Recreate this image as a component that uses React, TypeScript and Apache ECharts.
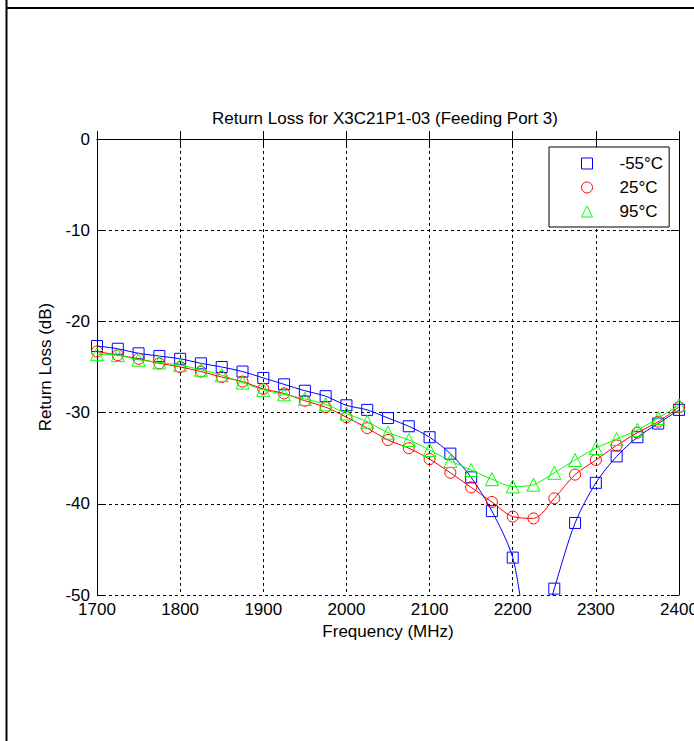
import React, { useEffect, useRef } from "react";
import * as echarts from "echarts";

const frequencies = [
  1700, 1725, 1750, 1775, 1800, 1825, 1850, 1875, 1900, 1925, 1950, 1975, 2000, 2025, 2050,
  2075, 2100, 2125, 2150, 2175, 2200, 2225, 2250, 2275, 2300, 2325, 2350, 2375, 2400,
];

const lossMinus55 = [
  -22.7, -23.0, -23.5, -23.8, -24.1, -24.6, -25.0, -25.5, -26.2, -26.9, -27.6, -28.2, -29.2, -29.7, -30.6,
  -31.5, -32.7, -34.5, -37.1, -40.8, -45.9, -57.0, -49.3, -42.1, -37.7, -34.8, -32.7, -31.2, -29.7,
];

const loss25 = [
  -23.3, -23.7, -24.1, -24.6, -25.0, -25.5, -26.1, -26.6, -27.4, -27.9, -28.7, -29.4, -30.5, -31.7, -33.0,
  -33.9, -35.1, -36.6, -38.2, -39.8, -41.4, -41.6, -39.4, -36.8, -35.2, -33.6, -32.2, -31.0, -29.4,
];

const loss95 = [
  -23.6, -23.7, -24.2, -24.5, -24.8, -25.3, -25.9, -26.7, -27.5, -28.0, -28.5, -29.1, -30.1, -31.0, -32.2,
  -33.0, -34.1, -35.3, -36.3, -37.3, -38.1, -37.9, -36.6, -35.2, -33.9, -32.9, -31.9, -30.6, -29.2,
];

const seriesNames = ["-55°C", "25°C", "95°C"];
const seriesColors = ["#0000ff", "#ff0000", "#00ff00"];
const seriesSymbols = ["rect", "circle", "triangle"];
const seriesSymbolSizes = [11, 11, 13];
const seriesValues = [lossMinus55, loss25, loss95];

const titleText = "Return Loss for X3C21P1-03 (Feeding Port 3)";
const xAxisName = "Frequency (MHz)";
const yAxisName = "Return Loss (dB)";

const FONT = "'Liberation Sans', Arial, sans-serif";

export default function App() {
  const ref = useRef<HTMLDivElement>(null);

  useEffect(() => {
    if (!ref.current) return;
    const chart = echarts.init(ref.current, undefined, { renderer: "svg" });

    const boxAxisCommon = {
      axisLine: { show: true, lineStyle: { color: "#000", width: 1 } },
      axisTick: { show: true, inside: true, length: 8, lineStyle: { color: "#000", width: 1 } },
    };

    const option: any = {
      animation: false,
      backgroundColor: "#fff",
      textStyle: { fontFamily: FONT },
      title: {
        text: titleText,
        left: 212,
        top: 110,
        padding: 0,
        textStyle: { fontFamily: FONT, fontSize: 17, fontWeight: "normal", color: "#000" },
      },
      grid: {
        left: 97,
        top: 139,
        right: 15,
        bottom: 146,
        containLabel: false,
        outerBoundsMode: "none",
      },
      legend: {
        orient: "vertical",
        left: 549,
        top: 147,
        padding: [8, 6, 7, 32],
        itemWidth: 11,
        itemHeight: 11,
        itemGap: 7,
        selectedMode: false,
        backgroundColor: "#fff",
        borderColor: "#000",
        borderWidth: 1,
        borderRadius: 0,
        textStyle: {
          fontFamily: FONT,
          fontSize: 17,
          lineHeight: 17,
          color: "#000",
          padding: [0, 0, 0, 22],
        },
        data: seriesNames.map((name, i) => ({
          name,
          icon: seriesSymbols[i],
          itemStyle: { color: "rgba(0,0,0,0)", borderColor: seriesColors[i], borderWidth: 1 },
        })),
      },
      xAxis: [
        {
          type: "value",
          min: 1700,
          max: 2400,
          interval: 100,
          position: "bottom",
          name: xAxisName,
          nameLocation: "middle",
          nameGap: 26,
          nameTextStyle: { fontFamily: FONT, fontSize: 17, color: "#000" },
          ...boxAxisCommon,
          axisLabel: {
            show: true,
            margin: 6,
            fontFamily: FONT,
            fontSize: 17,
            color: "#000",
            formatter: (v: number) => String(v),
          },
          splitLine: { show: true, lineStyle: { color: "#000", width: 1, type: [3, 3] } },
        },
        {
          type: "value",
          min: 1700,
          max: 2400,
          interval: 100,
          position: "top",
          ...boxAxisCommon,
          axisLabel: { show: false },
          splitLine: { show: false },
        },
      ],
      yAxis: [
        {
          type: "value",
          min: -50,
          max: 0,
          interval: 10,
          position: "left",
          name: yAxisName,
          nameLocation: "middle",
          nameGap: 43,
          nameTextStyle: { fontFamily: FONT, fontSize: 17, color: "#000" },
          ...boxAxisCommon,
          axisLabel: {
            show: true,
            margin: 7,
            fontFamily: FONT,
            fontSize: 17,
            color: "#000",
            formatter: (v: number) => String(v),
          },
          splitLine: { show: true, lineStyle: { color: "#000", width: 1, type: [3, 3] } },
        },
        {
          type: "value",
          min: -50,
          max: 0,
          interval: 10,
          position: "right",
          ...boxAxisCommon,
          axisLabel: { show: false },
          splitLine: { show: false },
        },
      ],
      series: seriesNames.map((name, i) => ({
        name,
        type: "line",
        xAxisIndex: 0,
        yAxisIndex: 0,
        data: frequencies.map((f, j) => [f, seriesValues[i][j]]),
        smooth: 0.3,
        clip: true,
        symbol: seriesSymbols[i],
        symbolSize: seriesSymbolSizes[i],
        showAllSymbol: true,
        lineStyle: { color: seriesColors[i], width: 1 },
        itemStyle: { color: "rgba(0,0,0,0)", borderColor: seriesColors[i], borderWidth: 1 },
        emphasis: { disabled: true },
        z: 3 + i,
      })),
      graphic: [
        {
          type: "line",
          silent: true,
          shape: { x1: 6.5, y1: 0, x2: 6.5, y2: 741 },
          style: { stroke: "#000", lineWidth: 2 },
        },
        {
          type: "line",
          silent: true,
          shape: { x1: 6, y1: 8, x2: 694, y2: 8 },
          style: { stroke: "#000", lineWidth: 2 },
        },
      ],
    };

    chart.setOption(option);
    return () => chart.dispose();
  }, []);

  return (
    <div
      ref={ref}
      style={{ position: "absolute", left: 0, top: 0, width: 694, height: 741 }}
    />
  );
}
